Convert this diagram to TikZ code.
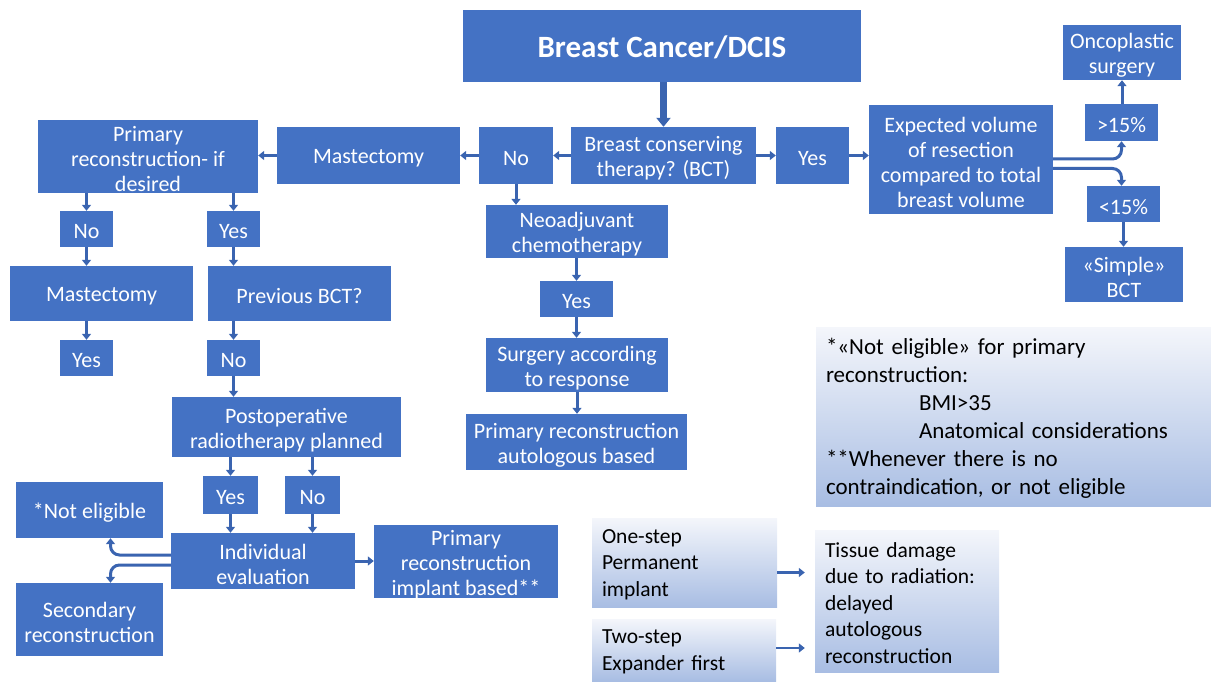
\documentclass[tikz,border=0pt]{standalone}
\usepackage{fontspec}
\setmainfont{Carlito}
\usetikzlibrary{arrows.meta,calc}
\definecolor{boxblue}{HTML}{4472C4}
\definecolor{arrblue}{HTML}{3A64B0}
\definecolor{gradtop}{HTML}{F4F6FB}
\definecolor{gradbot}{HTML}{A8BDE3}
\tikzset{
  box/.style={fill=boxblue, inner sep=0pt},
  boxtext/.style={text=white, align=center, inner sep=0pt, font=\fontsize{22}{25}\selectfont},
  gbox/.style={shading=axis, top color=gradtop, bottom color=gradbot, inner sep=0pt},
  gtext/.style={text=black, align=left, inner sep=0pt},
  arr/.style={draw=arrblue, line width=3pt, -{Triangle[length=6pt,width=9pt]}},
  bigarr/.style={draw=arrblue, line width=6.5pt, -{Triangle[length=9pt,width=14pt]}},
  splitarr/.style={arr, rounded corners=9pt}
}
% \bx{name}{center}{width}{height}{text}
\newcommand\bx[5]{%
  \node[box, minimum width=#3, minimum height=#4] (#1) at (#2) {};
  \node[boxtext] (#1-t) at ([yshift=-3pt]#1.center) {#5};}
% \gb{name}{center}{width}{height}{text width}{font}{text}
\newcommand\gb[7]{%
  \node[gbox, minimum width=#3, minimum height=#4] (#1) at (#2) {};
  \node[gtext, text width=#5, font=#6, anchor=west] (#1-t) at ([xshift=10pt,yshift=-2pt]#1.west) {#7};}
\begin{document}
\begin{tikzpicture}[x=1pt,y=-1pt]
\useasboundingbox (0,0) rectangle (1211,682);
% boxes
\node[box, minimum width=398pt, minimum height=72pt] (title) at (662,46) {};
\node[boxtext, font=\fontsize{31}{36}\selectfont\bfseries] (title-t) at ([yshift=-1pt]title.center) {Breast Cancer/DCIS};
\bx{bct}{663.5,155.5}{185pt}{57pt}{Breast conserving\\therapy? (BCT)}
\bx{no1}{516,155.5}{74pt}{57pt}{No}
\bx{mast1}{368.5,155.5}{183pt}{57pt}{Mastectomy}
\bx{prd}{148,156.5}{220pt}{73pt}{Primary\\reconstruction- if\\desired}
\bx{yes1}{812.5,155.5}{73pt}{57pt}{Yes}
\bx{ev}{961,159.5}{184pt}{109pt}{Expected volume\\of resection\\compared to total\\breast volume}
\bx{gt}{1121.5,122.5}{73pt}{37pt}{>15\%}
\bx{onco}{1122,52.5}{118pt}{55pt}{Oncoplastic\\surgery}
\bx{lt}{1123.5,204}{73pt}{36pt}{<15\%}
\bx{simple}{1124,274.5}{118pt}{55pt}{«Simple»\\BCT}
\bx{neo}{577,231.5}{182pt}{53pt}{Neoadjuvant\\chemotherapy}
\bx{yes2}{576.5,299}{73pt}{36pt}{Yes}
\bx{surg}{577,365}{182pt}{54pt}{Surgery according\\to response}
\bx{pra}{576.5,442}{221pt}{56pt}{Primary reconstruction\\autologous based}
\bx{no3}{86.5,229}{53pt}{36pt}{No}
\bx{yes3}{233.5,229}{53pt}{36pt}{Yes}
\bx{mast2}{101.5,293.5}{183pt}{55pt}{Mastectomy}
\bx{prev}{299.5,293.5}{183pt}{55pt}{Previous BCT?}
\bx{yes4}{86.5,358}{53pt}{36pt}{Yes}
\bx{no4}{233.5,358}{53pt}{36pt}{No}
\bx{post}{286.5,427}{229pt}{60pt}{Postoperative\\radiotherapy planned}
\bx{yes5}{230.5,495}{55pt}{38pt}{Yes}
\bx{no5}{312.5,495}{55pt}{38pt}{No}
\bx{ind}{263,561}{184pt}{56pt}{Individual\\evaluation}
\bx{ne}{89.5,510}{147pt}{56pt}{*Not eligible}
\bx{sec}{89.5,619.5}{147pt}{73pt}{Secondary\\reconstruction}
\bx{pri}{466,561.5}{184pt}{73pt}{Primary\\reconstruction\\implant based{}**}
% gradient boxes
\gb{notes}{1013.5,416.5}{395pt}{179pt}{375pt}{\fontsize{23}{28}\selectfont}
  {*«Not eligible» for primary\\reconstruction:\\\hspace*{93pt}BMI>35\\\hspace*{93pt}Anatomical considerations\\{}**Whenever there is no\\contraindication, or not eligible}
\gb{one}{684.5,562.5}{185pt}{89pt}{165pt}{\fontsize{21.5}{26.5}\selectfont}{One-step\\Permanent\\implant}
\gb{two}{684,650}{184pt}{62pt}{164pt}{\fontsize{21.5}{26.5}\selectfont}{Two-step\\Expander first}
\gb{tis}{907,601}{184pt}{142pt}{164pt}{\fontsize{21.5}{26.5}\selectfont}{Tissue damage\\due to radiation:\\delayed\\autologous\\reconstruction}
% connectors
\draw[bigarr] (title.south -| bct.north) -- (bct.north);
\draw[arr] (bct.west) -- (no1.east);
\draw[arr] (no1.west) -- (mast1.east);
\draw[arr] (mast1.west) -- (prd.east |- mast1.west);
\draw[arr] (bct.east) -- (yes1.west);
\draw[arr] (yes1.east) -- (ev.west |- yes1.east);
\draw[arr] (no1.south) -- (neo.north -| no1.south);
\draw[arr] (neo.south -| yes2.north) -- (yes2.north);
\draw[arr] (yes2.south) -- (surg.north -| yes2.south);
\draw[arr] (surg.south) -- (pra.north -| surg.south);
\draw[arr] (gt.north -| onco.south) -- (onco.south);
\draw[arr] (lt.south) -- (simple.north -| lt.south);
\draw[splitarr] ([yshift=0.5pt]ev.east) -- ([yshift=0.5pt]ev.east -| gt.south) -- (gt.south);
\draw[splitarr] ([yshift=-9pt]ev.east) -- ([yshift=-9pt]ev.east -| gt.south) -- (lt.north -| gt.south);
\draw[arr] (prd.south -| no3.north) -- (no3.north);
\draw[arr] (prd.south -| yes3.north) -- (yes3.north);
\draw[arr] (no3.south) -- (mast2.north -| no3.south);
\draw[arr] (yes3.south) -- (prev.north -| yes3.south);
\draw[arr] (mast2.south -| yes4.north) -- (yes4.north);
\draw[arr] (prev.south -| no4.north) -- (no4.north);
\draw[arr] (no4.south) -- (post.north -| no4.south);
\draw[arr] (post.south -| yes5.north) -- (yes5.north);
\draw[arr] (post.south -| no5.north) -- (no5.north);
\draw[arr] (yes5.south) -- (ind.north -| yes5.south);
\draw[arr] (no5.south) -- (ind.north -| no5.south);
\draw[arr] (ind.east) -- (pri.west |- ind.east);
\coordinate (nex) at ([xshift=21pt]ne.south);
\draw[splitarr] ([yshift=6pt]ind.west) -- ([yshift=6pt]ind.west -| nex) -- (nex);
\draw[splitarr] ([yshift=-4pt]ind.west) -- ([yshift=-4pt]ind.west -| nex) -- (sec.north -| nex);
\draw[arr, line width=2.5pt] ([yshift=-10pt]one.east) -- ([xshift=-10pt,yshift=-10pt]tis.west |- one.east);
\draw[arr, line width=2.5pt] ([yshift=2pt]two.east) -- ([xshift=-10pt,yshift=2pt]tis.west |- two.east);
\end{tikzpicture}
\end{document}
